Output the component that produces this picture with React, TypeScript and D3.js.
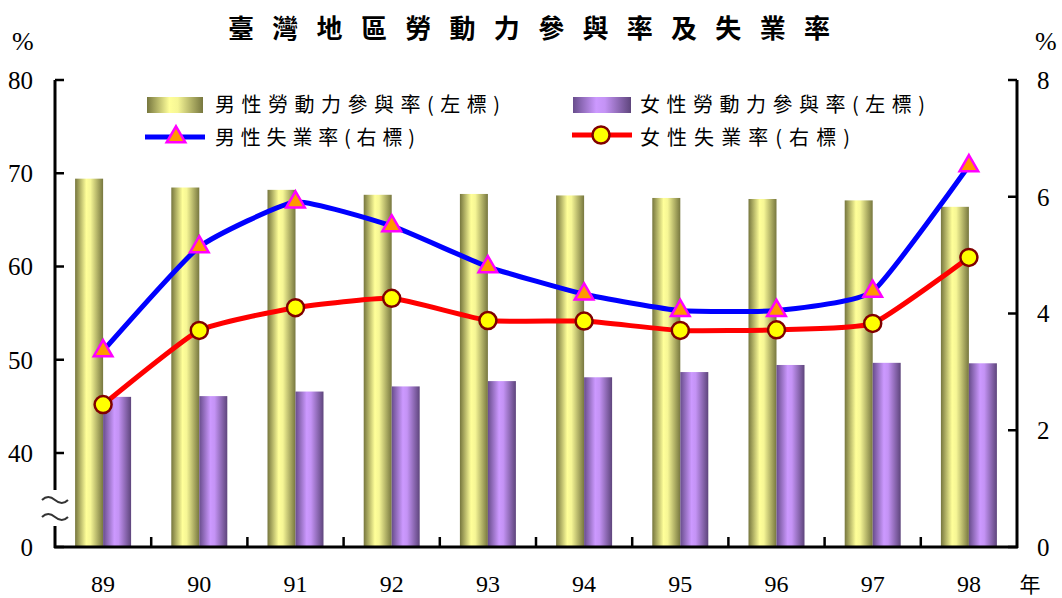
import React from 'react';
import * as d3 from 'd3';

// 年度
const years = ['89', '90', '91', '92', '93', '94', '95', '96', '97', '98'];
// 勞動力參與率 (左標, %)
const maleLfpr = [69.42, 68.47, 68.22, 67.69, 67.78, 67.62, 67.35, 67.24, 67.09, 66.40];
const femaleLfpr = [46.02, 46.10, 46.59, 47.14, 47.71, 48.12, 48.68, 49.44, 49.67, 49.62];
// 失業率 (右標, %)
const maleUnemp = [3.36, 5.14, 5.91, 5.50, 4.80, 4.33, 4.05, 4.05, 4.38, 6.53];
const femaleUnemp = [2.44, 3.71, 4.10, 4.26, 3.88, 3.87, 3.71, 3.72, 3.83, 4.96];

const leftTicks = [0, 40, 50, 60, 70, 80];
const rightTicks = [0, 2, 4, 6, 8];

const W = 1062;
const H = 598;
const x0 = 55;
const x1 = 1017;
const yBottom = 547;
const yTop = 80;

const serif = "'Times New Roman', 'Liberation Serif', Tinos, 'DejaVu Serif', serif";
const cjk = "'Noto Sans CJK TC', 'Noto Sans CJK SC', sans-serif";

export default function App() {
  const xBand = d3.scaleBand<string>()
    .domain(years)
    .range([x0, x1])
    .paddingInner(0.418)
    .paddingOuter(0.209);
  const sub = d3.scaleBand<string>()
    .domain(['m', 'f'])
    .range([0, xBand.bandwidth()]);
  const step = xBand.step();

  // broken axis: 0 .. 40 squeezed to one step
  const yLeft = d3.scaleLinear().domain([0, 40, 80]).range([yBottom, 453, yTop]);
  const yRight = d3.scaleLinear().domain([0, 8]).range([yBottom, yTop]);

  const cx = (i: number) => (xBand(years[i]) as number) + xBand.bandwidth() / 2;

  const line = d3.line<number>()
    .x((_, i) => cx(i))
    .y(d => yRight(d))
    .curve(d3.curveCardinal.tension(0.55));

  const tri = d3.symbol().type(d3.symbolTriangle).size(150)();

  const num = { fontFamily: serif, fontSize: 25 };

  return (
    <svg width={W} height={H} style={{ position: 'absolute', left: 0, top: 0, background: '#fff' }}>
      <defs>
        <linearGradient id="gMale" x1="0" x2="1" y1="0" y2="0">
          <stop offset="0" stopColor="#76763e" />
          <stop offset="0.4" stopColor="#ffff99" />
          <stop offset="0.55" stopColor="#f6f695" />
          <stop offset="1" stopColor="#77773f" />
        </linearGradient>
        <linearGradient id="gFemale" x1="0" x2="1" y1="0" y2="0">
          <stop offset="0" stopColor="#684d8c" />
          <stop offset="0.4" stopColor="#cc99ff" />
          <stop offset="0.55" stopColor="#c493f5" />
          <stop offset="1" stopColor="#5e457c" />
        </linearGradient>
      </defs>

      {/* title */}
      <text x={228} y={38} textLength={602} lengthAdjust="spacing"
        style={{ fontFamily: cjk, fontSize: 26, fontWeight: 700 }}>臺灣地區勞動力參與率及失業率</text>
      <text x={12} y={50} style={{ fontFamily: serif, fontSize: 26 }}>%</text>
      <text x={1035} y={50} style={{ fontFamily: serif, fontSize: 26 }}>%</text>

      {/* bars */}
      {years.map((yr, i) => (
        <g key={yr}>
          <rect x={(xBand(yr) as number) + (sub('m') as number)} y={yLeft(maleLfpr[i])}
            width={sub.bandwidth()} height={yBottom - yLeft(maleLfpr[i])} fill="url(#gMale)" />
          <rect x={(xBand(yr) as number) + (sub('f') as number)} y={yLeft(femaleLfpr[i])}
            width={sub.bandwidth()} height={yBottom - yLeft(femaleLfpr[i])} fill="url(#gFemale)" />
        </g>
      ))}

      {/* axes */}
      <line x1={x0} x2={x0} y1={yTop} y2={yBottom + 1} stroke="#000" strokeWidth={3} />
      <line x1={x1} x2={x1} y1={yTop} y2={yBottom + 1} stroke="#000" strokeWidth={3} />
      <line x1={x0 - 1} x2={x1 + 1} y1={yBottom} y2={yBottom} stroke="#000" strokeWidth={3} />
      {leftTicks.map(t => (
        <g key={'l' + t}>
          <line x1={x0} x2={x0 + 9} y1={yLeft(t)} y2={yLeft(t)} stroke="#000" strokeWidth={2.5} />
          <text x={33} y={yLeft(t)} dy="0.35em" textAnchor="end" style={num}>{t}</text>
        </g>
      ))}
      {rightTicks.map(t => (
        <g key={'r' + t}>
          <line x1={x1 - 9} x2={x1} y1={yRight(t)} y2={yRight(t)} stroke="#000" strokeWidth={2.5} />
          <text x={1037} y={yRight(t)} dy="0.35em" style={num}>{t}</text>
        </g>
      ))}
      {years.slice(1).map(yr => {
        const bx = (xBand(yr) as number) - step * 0.209;
        return <line key={'xt' + yr} x1={bx} x2={bx} y1={yBottom} y2={yBottom - 10} stroke="#000" strokeWidth={2.5} />;
      })}
      {years.map((yr, i) => (
        <text key={'xl' + yr} x={cx(i)} y={592} textAnchor="middle"
          style={{ fontFamily: serif, fontSize: 24 }}>{yr}</text>
      ))}
      <text x={1030} y={592} textAnchor="middle" style={{ fontFamily: cjk, fontSize: 21 }}>年</text>

      {/* axis break */}
      <rect x={42} y={490} width={26} height={36} fill="#fff" />
      <path d="M42,500 q6,-6 13,0 t13,0" fill="none" stroke="#333" strokeWidth={2} />
      <path d="M42,517 q6,-6 13,0 t13,0" fill="none" stroke="#333" strokeWidth={2} />

      {/* lines */}
      <path d={line(maleUnemp) || ''} fill="none" stroke="#0000ff" strokeWidth={5} />
      <path d={line(femaleUnemp) || ''} fill="none" stroke="#ff0000" strokeWidth={5} />
      {maleUnemp.map((v, i) => (
        <path key={'mt' + i} d={tri || ''} transform={`translate(${cx(i)},${yRight(v)})`}
          fill="#ff9900" stroke="#ff00ff" strokeWidth={2.5} />
      ))}
      {femaleUnemp.map((v, i) => (
        <circle key={'fc' + i} cx={cx(i)} cy={yRight(v)} r={8.5}
          fill="#ffff00" stroke="#800000" strokeWidth={2.5} />
      ))}

      {/* legend */}
      <rect x={147} y={97} width={56} height={16} fill="url(#gMale)" />
      <text x={215} y={105} dy="0.35em" textLength={285} lengthAdjust="spacing"
        style={{ fontFamily: cjk, fontSize: 20 }}>男性勞動力參與率(左標)</text>
      <line x1={145} x2={205} y1={137} y2={137} stroke="#0000ff" strokeWidth={5} />
      <path d={tri || ''} transform="translate(176,137)" fill="#ff9900" stroke="#ff00ff" strokeWidth={2.5} />
      <text x={215} y={138} dy="0.35em" textLength={200} lengthAdjust="spacing"
        style={{ fontFamily: cjk, fontSize: 20 }}>男性失業率(右標)</text>

      <rect x={573} y={97} width={58} height={16} fill="url(#gFemale)" />
      <text x={640} y={105} dy="0.35em" textLength={285} lengthAdjust="spacing"
        style={{ fontFamily: cjk, fontSize: 20 }}>女性勞動力參與率(左標)</text>
      <line x1={572} x2={632} y1={135} y2={135} stroke="#ff0000" strokeWidth={5} />
      <circle cx={601} cy={135} r={8.5} fill="#ffff00" stroke="#800000" strokeWidth={2.5} />
      <text x={640} y={138} dy="0.35em" textLength={210} lengthAdjust="spacing"
        style={{ fontFamily: cjk, fontSize: 20 }}>女性失業率(右標)</text>
    </svg>
  );
}
